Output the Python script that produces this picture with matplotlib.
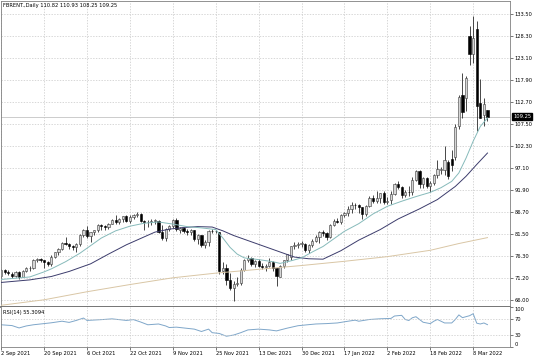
import matplotlib.pyplot as plt

# daily bars, 2 Sep 2021 .. 14 Mar 2022
opens = [71.6, 73.0, 72.6, 72.2, 71.7, 72.6, 71.5, 72.9, 73.5, 73.6,
         75.5, 75.7, 75.3, 74.9, 74.4, 76.2, 77.3, 78.1, 79.5, 79.1,
         78.6, 78.5, 79.3, 81.3, 82.6, 81.1, 82.0, 82.4, 83.7, 83.4,
         83.2, 84.0, 84.9, 84.3, 85.1, 85.8, 84.6, 85.5, 86.0, 86.4,
         84.6, 84.3, 84.4, 84.7, 84.7, 82.0, 80.5, 82.7, 83.4, 84.8,
         82.6, 82.9, 82.2, 82.0, 82.4, 80.3, 81.2, 78.9, 79.7, 82.3,
         82.2, 82.0, 72.7, 73.4, 70.6, 68.9, 69.7, 69.9, 73.1, 75.4,
         75.8, 74.4, 75.2, 73.9, 73.7, 73.9, 75.0, 73.5, 71.5, 74.0,
         75.3, 76.1, 78.6, 78.9, 79.2, 79.3, 77.8, 79.0, 80.0, 80.8,
         82.0, 81.8, 80.9, 83.7, 84.7, 84.5, 86.1, 86.5, 87.5, 88.4,
         88.4, 87.9, 86.3, 88.2, 90.0, 89.3, 90.0, 91.2, 89.2, 89.5,
         91.1, 93.3, 92.7, 90.8, 91.6, 91.4, 94.4, 96.5, 93.3, 94.8,
         93.0, 93.5, 95.4, 96.8, 96.8, 98.5, 99.4, 99.7, 107.0, 114.5,
         113.6, 128.4, 124.2, 130.0, 112.6, 109.6, 110.82]
highs = [73.2, 73.3, 73.0, 72.6, 72.9, 72.9, 73.1, 73.8, 74.1, 75.6,
         75.9, 75.9, 75.5, 75.1, 76.5, 77.4, 78.2, 79.7, 80.8, 79.5,
         79.0, 79.4, 81.5, 82.8, 83.5, 82.0, 82.6, 84.0, 83.9, 83.7,
         84.2, 85.1, 86.0, 85.4, 85.9, 86.1, 86.0, 86.3, 86.7, 86.5,
         84.9, 84.8, 85.1, 85.0, 84.9, 83.7, 83.0, 83.6, 85.0, 85.3,
         83.1, 83.1, 82.8, 82.8, 82.5, 81.5, 81.3, 80.1, 82.5, 82.8,
         82.6, 82.0, 75.0, 74.5, 72.4, 70.4, 71.4, 73.6, 75.6, 76.5,
         76.1, 75.4, 75.6, 74.8, 74.4, 75.8, 75.2, 73.6, 74.2, 75.5,
         76.9, 78.7, 79.6, 79.6, 80.0, 79.4, 79.2, 80.3, 81.2, 82.2,
         82.5, 82.0, 83.9, 85.0, 85.3, 86.2, 86.7, 88.1, 89.1, 89.0,
         88.6, 88.0, 88.4, 90.5, 90.7, 91.7, 91.3, 91.7, 90.2, 91.7,
         93.7, 94.0, 92.8, 91.9, 93.0, 95.0, 96.8, 96.6, 95.0, 95.0,
         94.0, 95.8, 99.1, 97.5, 102.3, 99.0, 101.5, 107.5, 114.5, 119.7,
         118.9, 130.8, 133.2, 132.0, 118.3, 113.8, 110.93]
lows = [71.1, 72.1, 71.9, 71.1, 71.4, 71.0, 71.3, 72.5, 72.9, 73.2,
        74.9, 74.9, 73.5, 73.9, 74.0, 75.8, 76.6, 77.8, 78.9, 77.9,
        77.7, 77.2, 78.6, 80.9, 80.6, 79.6, 81.3, 82.1, 82.6, 82.4,
        82.7, 83.9, 83.9, 84.0, 84.3, 84.4, 84.2, 85.0, 85.6, 84.3,
        82.6, 83.3, 83.6, 83.9, 81.8, 80.1, 80.0, 82.3, 82.9, 82.2,
        81.9, 81.8, 81.4, 81.4, 79.9, 79.3, 78.5, 78.3, 78.7, 81.8,
        81.9, 72.1, 72.1, 69.6, 68.3, 65.7, 69.3, 69.6, 72.9, 75.0,
        74.1, 73.8, 73.7, 73.2, 72.8, 73.7, 72.9, 69.3, 71.3, 73.6,
        75.0, 75.5, 78.1, 78.3, 78.4, 77.4, 77.1, 78.4, 79.6, 79.4,
        81.1, 80.2, 80.6, 83.5, 84.1, 83.9, 85.6, 85.9, 86.6, 87.4,
        86.6, 85.2, 85.7, 87.9, 88.8, 88.9, 88.8, 88.7, 88.6, 88.7,
        90.8, 92.3, 90.1, 90.3, 90.6, 90.7, 94.0, 92.4, 92.5, 92.4,
        91.5, 93.2, 94.9, 95.8, 95.6, 94.5, 96.5, 99.0, 106.5, 109.1,
        110.6, 121.4, 122.0, 106.0, 108.9, 107.2, 108.25]
closes = [73.03, 72.61, 72.22, 71.69, 72.60, 71.45, 72.92, 73.51, 73.60, 75.46,
          75.67, 75.34, 74.92, 74.36, 76.19, 77.25, 78.09, 79.53, 79.09, 78.64,
          78.52, 79.28, 81.26, 82.56, 81.08, 81.95, 82.39, 83.65, 83.42, 83.18,
          84.00, 84.86, 84.33, 85.08, 85.82, 84.61, 85.53, 85.99, 86.40, 84.58,
          84.32, 84.38, 84.71, 84.72, 81.99, 80.54, 82.74, 83.43, 84.78, 82.64,
          82.87, 82.17, 82.05, 82.43, 80.28, 81.24, 78.89, 79.70, 82.31, 82.25,
          82.22, 72.72, 73.44, 70.57, 68.87, 69.67, 69.88, 73.08, 75.44, 75.82,
          74.42, 75.15, 73.90, 73.70, 73.88, 75.02, 73.52, 71.52, 73.98, 75.29,
          76.85, 78.60, 78.94, 79.23, 79.32, 77.78, 78.98, 80.00, 80.80, 81.99,
          81.75, 80.87, 83.72, 84.67, 84.47, 86.06, 86.48, 87.51, 88.44, 88.38,
          87.89, 86.27, 88.20, 89.96, 89.34, 90.03, 91.21, 89.16, 89.47, 91.11,
          93.27, 92.69, 90.78, 91.55, 91.41, 94.44, 96.48, 93.28, 94.81, 92.97,
          93.54, 95.39, 96.84, 96.84, 99.08, 95.20, 97.90, 106.80, 114.00, 110.40,
          118.40, 124.20, 128.00, 111.90, 109.10, 112.40, 109.25]

# moving averages (bar index -> value)
fast_bars = [0, 4, 8, 12, 14, 18, 22, 25, 28, 32, 36, 40, 44, 48, 52, 56, 60, 62, 64,
             66, 68, 72, 76, 78, 81, 84, 87, 90, 93, 96, 100, 104, 108, 112, 116, 120,
             123, 126, 128, 130, 132, 134, 136]
fast_ma = [70.8, 71.1, 71.4, 72.6, 73.3, 75.0, 77.0, 78.8, 80.6, 82.3, 83.4, 84.1, 84.4,
           83.9, 83.3, 83.0, 82.6, 80.6, 78.4, 76.8, 75.9, 75.5, 75.0, 74.6, 75.2, 75.9,
           77.3, 78.6, 80.4, 82.2, 84.0, 86.3, 88.1, 89.3, 90.4, 91.4, 92.5, 94.0, 96.0,
           99.5, 103.5, 107.0, 109.0]
slow_bars = [0, 8, 14, 19, 25, 30, 35, 39, 43, 47, 51, 55, 59, 62, 65, 69, 73, 78, 82,
             86, 90, 95, 100, 106, 111, 117, 122, 127, 130, 133, 136]
slow_ma = [70.1, 70.7, 71.5, 72.7, 74.5, 76.8, 79.0, 80.5, 82.0, 82.7, 83.1, 83.3, 83.2,
           82.3, 81.2, 80.0, 78.8, 77.3, 76.1, 75.7, 75.6, 77.6, 80.1, 82.6, 85.1, 87.5,
           89.7, 92.8, 95.2, 98.0, 100.7]
long_bars = [0, 12, 24, 36, 48, 60, 72, 84, 96, 108, 120, 128, 136]
long_ma = [64.7, 66.0, 67.9, 69.6, 71.2, 72.3, 73.2, 74.1, 75.1, 76.2, 77.7, 79.3, 80.7]

rsi_bars = [0, 3, 5, 7, 9, 11, 14, 17, 19, 21, 23, 24, 28, 31, 33, 35, 37, 39, 41, 44,
            46, 47, 49, 52, 54, 56, 58, 59, 61, 63, 65, 67, 69, 72, 75, 77, 80, 83, 86,
            88, 91, 94, 97, 99, 100, 103, 106, 109, 110, 112, 113, 114, 115, 116, 118,
            120, 121, 122, 124, 126, 127, 128, 129, 131, 132, 133, 134, 135, 136]
rsi_vals = [55, 53, 47, 52, 55, 57, 60, 64, 61, 66, 72, 66, 68, 70, 68, 66, 68, 62, 55,
            57, 52, 48, 49, 46, 44, 38, 44, 35, 33, 26, 29, 35, 42, 44, 42, 39.5, 46.5,
            52.6, 55.3, 57, 58, 59.6, 64, 66.7, 64, 68.4, 70.2, 71.1, 77.2, 78.9, 68.4,
            65.8, 72.8, 75.4, 61.4, 57.9, 64, 68.4, 59.6, 59.6, 68.4, 80, 73, 78, 83, 59,
            57, 59.6, 55.3]
rsi_last = 55.3094

date_labels = ['2 Sep 2021', '20 Sep 2021', '6 Oct 2021', '22 Oct 2021', '9 Nov 2021',
               '25 Nov 2021', '13 Dec 2021', '30 Dec 2021', '17 Jan 2022', '2 Feb 2022',
               '18 Feb 2022', '8 Mar 2022']
date_bars = [0, 12, 24, 36, 48, 60, 72, 84, 96, 108, 120, 132]
price_ticks = [66.00, 71.20, 76.30, 81.50, 86.70, 91.90, 97.10, 102.30, 107.50,
               112.70, 117.90, 123.10, 128.30, 133.50]

plt.rcParams['font.family'] = ['DejaVu Sans']
FS = 3.7
W, H = 536, 361


def rect(x0, y0, x1, y1):
    return [x0 / W, 1 - y1 / H, (x1 - x0) / W, (y1 - y0) / H]


fig = plt.figure(figsize=(W / 100, H / 100), dpi=100)
ax = fig.add_axes(rect(0.5, 1, 510, 306.5))
ax_rsi = fig.add_axes(rect(0.5, 307, 510, 346.5))

grid_kw = dict(color='#c8c8c8', lw=0.5, ls=(0, (2, 2)))
xlim = (-0.2, 142.3)

# candles
n = len(closes)
bars = list(range(n))
ax.vlines(bars, lows, highs, color='#2a2a2a', lw=0.6, zorder=2)
up = [i for i in bars if closes[i] >= opens[i]]
dn = [i for i in bars if closes[i] < opens[i]]
ax.bar(up, [max(closes[i] - opens[i], 0.1) for i in up], bottom=[opens[i] for i in up],
       width=0.62, color='#d6d6d6', edgecolor='#3a3a3a', linewidth=0.4, zorder=2.5)
ax.bar(dn, [opens[i] - closes[i] for i in dn], bottom=[closes[i] for i in dn],
       width=0.62, color='black', edgecolor='black', linewidth=0.4, zorder=2.5)

ax.plot(long_bars, long_ma, color='#d9c6a5', lw=0.7, zorder=3)
ax.plot(slow_bars, slow_ma, color='#3c3c6c', lw=0.7, zorder=3)
ax.plot(fast_bars, fast_ma, color='#86baba', lw=0.7, zorder=3)

ax.axhline(closes[-1], color='#c4c4c4', lw=0.6, zorder=1)
ax.text(1.006, closes[-1], f'{closes[-1]:.2f}', transform=ax.get_yaxis_transform(),
        fontsize=FS, color='white', va='center', ha='left', clip_on=False,
        bbox=dict(boxstyle='square,pad=0.2', fc='black', ec='black'))
ax.text(0.005, 0.995,
        f'FBRENT.,Daily {opens[-1]:.2f} {highs[-1]:.2f} {lows[-1]:.2f} {closes[-1]:.2f}',
        transform=ax.transAxes, fontsize=FS, va='top', ha='left')

ax.set_xlim(*xlim)
ax.set_ylim(64.41, 136.65)
ax.set_xticks(date_bars)
ax.set_yticks(price_ticks)
ax.set_yticklabels([f'{p:.2f}' for p in price_ticks])
ax.yaxis.tick_right()
ax.tick_params(axis='x', bottom=False, labelbottom=False)
ax.tick_params(axis='y', length=2, width=0.5, color='#404040', labelsize=FS, pad=1.5)
ax.grid(True, **grid_kw)
ax.set_axisbelow(True)

# RSI panel
ax_rsi.plot(rsi_bars, rsi_vals, color='#7ea6c9', lw=0.7)
ax_rsi.axhline(70, **grid_kw)
ax_rsi.axhline(30, **grid_kw)
ax_rsi.set_xlim(*xlim)
ax_rsi.set_ylim(0, 100)
ax_rsi.set_xticks(date_bars)
ax_rsi.set_xticklabels(date_labels, ha='left')
ax_rsi.set_yticks([0, 30, 70, 100])
ax_rsi.set_yticklabels(['0', '30', '70', '100'])
ax_rsi.yaxis.tick_right()
lbls = ax_rsi.get_yticklabels()
lbls[0].set_va('bottom')
lbls[3].set_va('top')
ax_rsi.tick_params(axis='both', length=2, width=0.5, color='#404040', labelsize=FS, pad=1.5)
ax_rsi.xaxis.grid(True, **grid_kw)
ax_rsi.text(0.004, 0.93, f'RSI(14) {rsi_last:.4f}', transform=ax_rsi.transAxes,
            fontsize=FS, va='top', ha='left')

for a in (ax, ax_rsi):
    for s in a.spines.values():
        s.set_color('#808080')
        s.set_linewidth(0.6)
# panel separator
ax.spines['bottom'].set_linewidth(1.3)
ax.spines['bottom'].set_color('#6a6a6a')
ax_rsi.spines['top'].set_visible(False)

fig.savefig('out.png', dpi=100)
